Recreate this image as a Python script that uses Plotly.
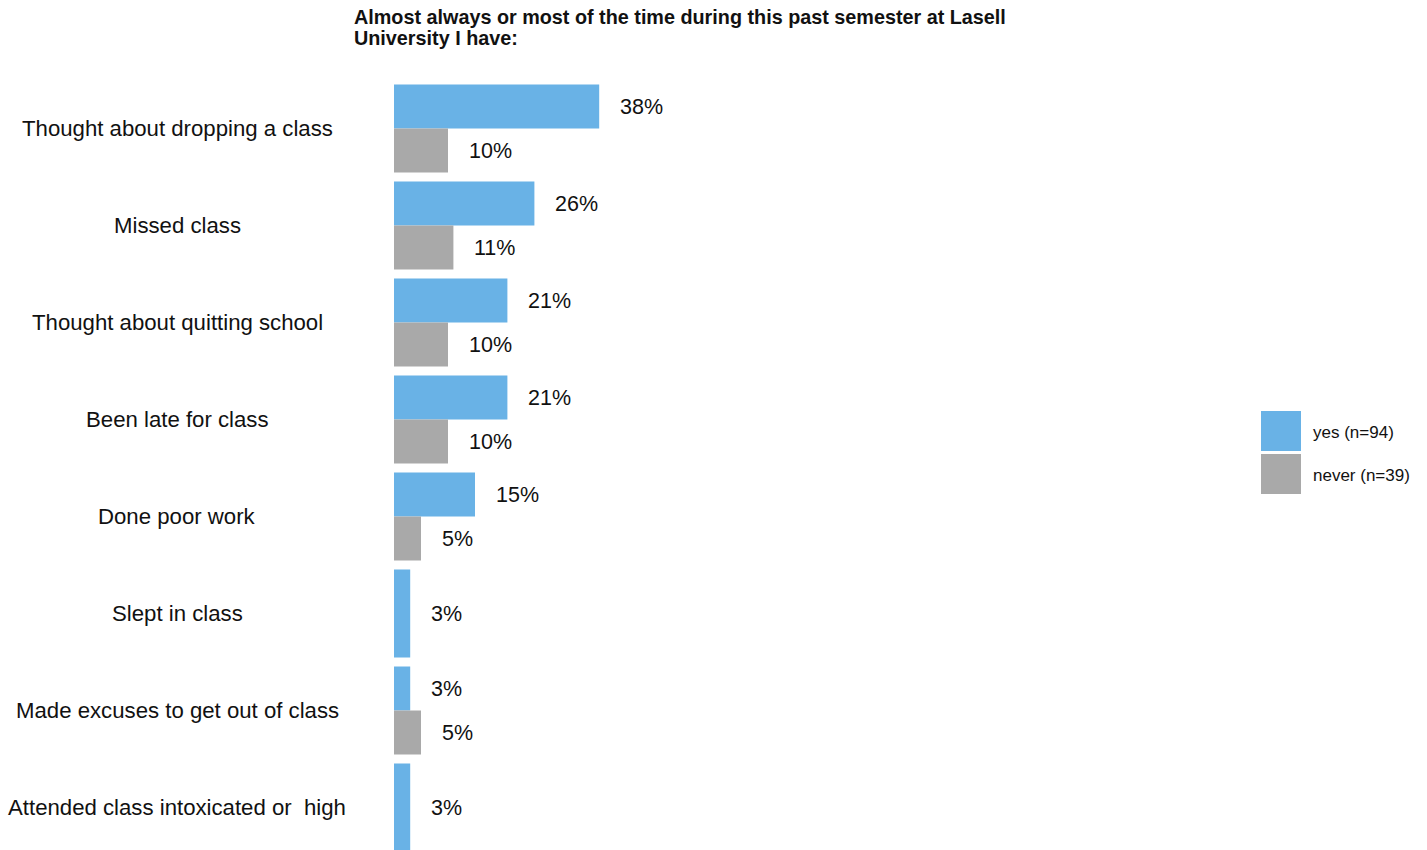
import plotly.graph_objects as go

# Survey items (top to bottom)
categories = [
    "Thought about dropping a class",
    "Missed class",
    "Thought about quitting school",
    "Been late for class",
    "Done poor work",
    "Slept in class",
    "Made excuses to get out of class",
    "Attended class intoxicated or  high",
]
# Percent answering "almost always / most of the time"
yes_values = [38, 26, 21, 21, 15, 3, 3, 3]
never_values = [10, 11, 10, 10, 5, None, 5, None]
series_names = ["yes (n=94)", "never (n=39)"]
title_lines = [
    "Almost always or most of the time during this past semester at Lasell",
    "University I have:",
]

YES_COLOR = "#69B2E6"
NEVER_COLOR = "#A9A9A9"
FONT = "Liberation Sans, Arial, sans-serif"

W, H = 1427, 850
ML, MR, MT, MB = 394, 187, 80, 0
PLOT_W = W - ML - MR
PLOT_H = H - MT - MB
PX_PER_UNIT = 5.4        # pixels per percentage point
BAND = 97.0              # pixels per category row
HALF = 0.4536            # half of a category's bar thickness (category units)

pos = list(range(len(categories)))

# A category with no "never" value gets a single full-height "yes" bar
yes_offset, yes_width, never_offset, never_width = [], [], [], []
for nv in never_values:
    if nv is None:
        yes_offset.append(-HALF)
        yes_width.append(2 * HALF)
    else:
        yes_offset.append(-HALF)
        yes_width.append(HALF)
    never_offset.append(0.0)
    never_width.append(HALF)

fig = go.Figure()
fig.add_trace(go.Bar(
    y=pos, x=yes_values, orientation="h", name=series_names[0],
    marker=dict(color=YES_COLOR, line=dict(width=0)),
    offset=yes_offset, width=yes_width, showlegend=False,
))
fig.add_trace(go.Bar(
    y=[p for p, v in zip(pos, never_values) if v is not None],
    x=[v for v in never_values if v is not None],
    orientation="h", name=series_names[1],
    marker=dict(color=NEVER_COLOR, line=dict(width=0)),
    offset=[o for o, v in zip(never_offset, never_values) if v is not None],
    width=[w for w, v in zip(never_width, never_values) if v is not None],
    showlegend=False,
))

annotations = []
LABEL_FONT = dict(size=21.5, color="#111111", family=FONT)
# value labels beside each bar
for p, v, o, w in zip(pos, yes_values, yes_offset, yes_width):
    annotations.append(dict(
        x=v, y=p + o + w / 2, xref="x", yref="y", text=f"{v}%",
        showarrow=False, xanchor="left", yanchor="middle", xshift=19,
        font=LABEL_FONT,
    ))
for p, v, o, w in zip(pos, never_values, never_offset, never_width):
    if v is None:
        continue
    annotations.append(dict(
        x=v, y=p + o + w / 2, xref="x", yref="y", text=f"{v}%",
        showarrow=False, xanchor="left", yanchor="middle", xshift=19,
        font=LABEL_FONT,
    ))

# category labels, centred in a column left of the bars
label_x = (177 - ML) / PLOT_W
for p, c in zip(pos, categories):
    annotations.append(dict(
        x=label_x, y=p, xref="paper", yref="y", text=c, showarrow=False,
        xanchor="center", yanchor="middle",
        font=dict(size=22.2, color="#111111", family=FONT),
    ))


def px_x(px):
    return (px - ML) / PLOT_W


def px_y(py):
    return (H - MB - py) / PLOT_H


# two-line bold title, lines set a little tighter than the default spacing
for i, line in enumerate(title_lines):
    annotations.append(dict(
        x=px_x(352), y=px_y(17 + 21 * i), xref="paper", yref="paper",
        text=f"<b>{line}</b>", showarrow=False, xanchor="left", yanchor="middle",
        align="left", font=dict(size=19.8, color="#111111", family=FONT),
    ))

# legend: colour swatches with labels
shapes = []
for i, (name, color) in enumerate(zip(series_names, [YES_COLOR, NEVER_COLOR])):
    top = 411 + i * 43
    shapes.append(dict(
        type="rect", xref="paper", yref="paper",
        x0=px_x(1261), x1=px_x(1301), y0=px_y(top + 40), y1=px_y(top),
        fillcolor=color, line=dict(width=0),
    ))
    annotations.append(dict(
        x=px_x(1311), y=px_y(top + 21), xref="paper", yref="paper", text=name,
        showarrow=False, xanchor="left", yanchor="middle",
        font=dict(size=17, color="#111111", family=FONT),
    ))

fig.update_layout(
    width=W, height=H,
    margin=dict(l=ML, r=MR, t=MT, b=MB, pad=0),
    paper_bgcolor="white", plot_bgcolor="white",
    barmode="overlay",
    xaxis=dict(range=[0, PLOT_W / PX_PER_UNIT], visible=False, fixedrange=True),
    yaxis=dict(range=[-0.5 + PLOT_H / BAND, -0.5], visible=False, fixedrange=True),
    annotations=annotations,
    shapes=shapes,
    font=dict(family=FONT),
)

fig.write_html("out.html", config={"displayModeBar": False})
